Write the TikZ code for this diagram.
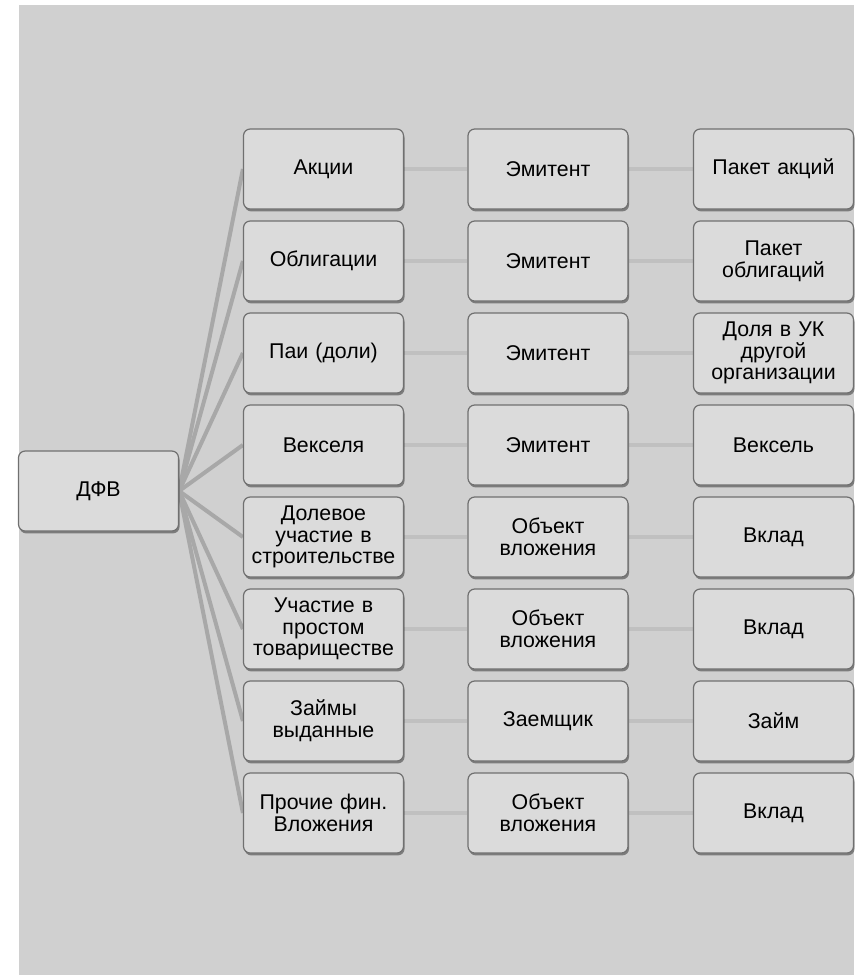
\documentclass[tikz,border=0pt]{standalone}
\usepackage{fontspec}
\setmainfont{Liberation Sans}
\usepackage{tikz}
\usetikzlibrary{shadows,backgrounds}
\definecolor{fon}{RGB}{208,208,208}
\definecolor{blokfill}{RGB}{219,219,219}
\definecolor{ramka}{RGB}{112,112,112}
\definecolor{vetkacol}{RGB}{168,168,168}
\definecolor{svyazcol}{RGB}{192,192,192}

\begin{document}
\begin{tikzpicture}[x=0.75pt,y=-0.75pt,
  blok/.style={draw=ramka, fill=blokfill, rounded corners=5pt, line width=0.9pt,
    minimum width=120pt, minimum height=60pt, text width=117pt, align=center,
    inner sep=1pt, font=\fontsize{16}{16.3}\selectfont,
    drop shadow={shadow xshift=0.8pt, shadow yshift=-1.8pt, fill=black, opacity=0.4}},
  vetka/.style={draw=vetkacol, line width=3pt},
  svyaz/.style={draw=svyazcol, line width=3pt}]
  		\useasboundingbox (0,0) rectangle (856,975);
  		% levyj blok
  		\node[blok] (dfv) at (98.5,491) {ДФВ};
  		% vidy vlozhenij
  		\node[blok] (vid1) at (323.5,169) {Акции};
  		\node[blok] (vid2) at (323.5,261) {Облигации};
  		\node[blok] (vid3) at (323.5,353) {Паи (доли)};
  		\node[blok] (vid4) at (323.5,445) {Векселя};
  		\node[blok] (vid5) at (323.5,537) {Долевое\\участие в\\строительстве};
  		\node[blok] (vid6) at (323.5,629) {Участие в\\простом\\товариществе};
  		\node[blok] (vid7) at (323.5,721) {Займы\\выданные};
  		\node[blok] (vid8) at (323.5,813) {Прочие фин.\\Вложения};
  		% objekty
  		\node[blok] (obj1) at (548,169) {Эмитент};
  		\node[blok] (obj2) at (548,261) {Эмитент};
  		\node[blok] (obj3) at (548,353) {Эмитент};
  		\node[blok] (obj4) at (548,445) {Эмитент};
  		\node[blok] (obj5) at (548,537) {Объект\\вложения};
  		\node[blok] (obj6) at (548,629) {Объект\\вложения};
  		\node[blok] (obj7) at (548,721) {Заемщик};
  		\node[blok] (obj8) at (548,813) {Объект\\вложения};
  		% rezultat
  		\node[blok] (rez1) at (773.5,169) {Пакет акций};
  		\node[blok] (rez2) at (773.5,261) {Пакет\\облигаций};
  		\node[blok] (rez3) at (773.5,353) {Доля в УК\\другой\\организации};
  		\node[blok] (rez4) at (773.5,445) {Вексель};
  		\node[blok] (rez5) at (773.5,537) {Вклад};
  		\node[blok] (rez6) at (773.5,629) {Вклад};
  		\node[blok] (rez7) at (773.5,721) {Займ};
  		\node[blok] (rez8) at (773.5,813) {Вклад};
  		\begin{scope}[on background layer]
  		\fill[fon] (19,5) rectangle (854,975);
  		\draw[vetka] (dfv.east) -- (vid1.west);\draw[vetka] (dfv.east) -- (vid2.west);
  		\draw[vetka] (dfv.east) -- (vid3.west);\draw[vetka] (dfv.east) -- (vid4.west);
  		\draw[vetka] (dfv.east) -- (vid5.west);\draw[vetka] (dfv.east) -- (vid6.west);
  		\draw[vetka] (dfv.east) -- (vid7.west);\draw[vetka] (dfv.east) -- (vid8.west);
  		\draw[svyaz] (vid1) -- (obj1) -- (rez1);\draw[svyaz] (vid2) -- (obj2) -- (rez2);
  		\draw[svyaz] (vid3) -- (obj3) -- (rez3);\draw[svyaz] (vid4) -- (obj4) -- (rez4);
  		\draw[svyaz] (vid5) -- (obj5) -- (rez5);\draw[svyaz] (vid6) -- (obj6) -- (rez6);
  		\draw[svyaz] (vid7) -- (obj7) -- (rez7);\draw[svyaz] (vid8) -- (obj8) -- (rez8);
  		\end{scope}
\end{tikzpicture}
\end{document}
